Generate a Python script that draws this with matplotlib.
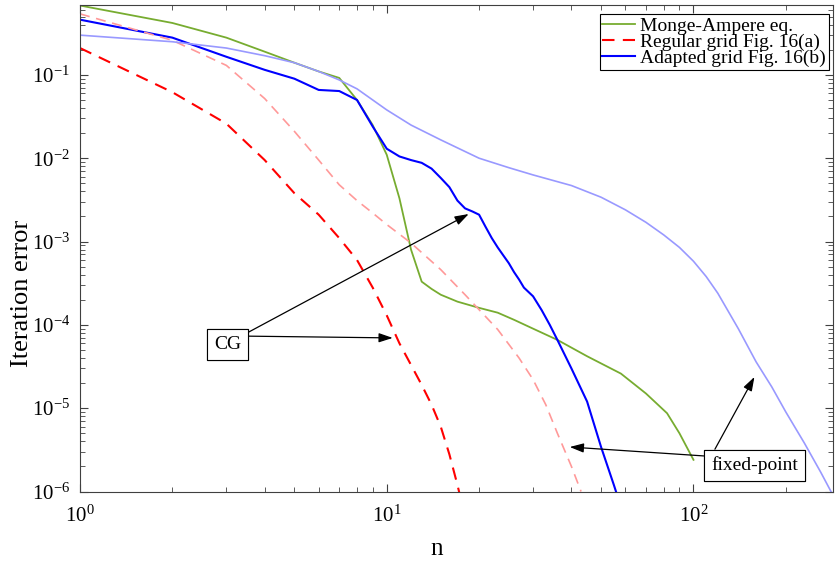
import matplotlib
matplotlib.use("Agg")
import matplotlib.pyplot as plt

plt.rcParams['font.family'] = ['Liberation Serif', 'DejaVu Serif']
plt.rcParams['mathtext.fontset'] = 'custom'
plt.rcParams['mathtext.rm'] = 'Liberation Serif'
plt.rcParams['mathtext.it'] = 'Liberation Serif:italic'

# Monge-Ampere eq.
n_green = [1, 2, 3, 4, 5, 6, 7, 8, 9, 10, 11, 12, 13, 14, 15, 17, 20, 23, 26, 30,
           36, 45, 58, 70, 82, 90, 100]
err_green = [0.68, 0.42, 0.28, 0.19, 0.14, 0.11, 0.092, 0.05, 0.025, 0.011, 3.3e-3,
             8e-4, 3.3e-4, 2.7e-4, 2.3e-4, 1.9e-4, 1.6e-4, 1.4e-4, 1.15e-4, 9e-5,
             6.6e-5, 4.2e-5, 2.6e-5, 1.5e-5, 8.7e-6, 5e-6, 2.4e-6]

# Regular grid, CG (red) and fixed-point (light red)
n_red = [1, 2, 3, 4, 5, 6, 7, 8, 9, 10, 11, 12, 13, 14, 15, 16, 17, 18]
err_red = [0.21, 0.062, 0.026, 0.0095, 0.0038, 0.0021, 0.0011, 6e-4, 2.8e-4, 1.3e-4,
           6e-5, 3.3e-5, 1.9e-5, 1.1e-5, 6e-6, 2.8e-6, 1.2e-6, 5e-7]
n_red_fp = [1, 2, 3, 4, 5, 6, 7, 8, 9, 10, 12, 15, 18, 23, 27, 30, 33, 36, 40, 43]
err_red_fp = [0.54, 0.26, 0.13, 0.052, 0.021, 0.0095, 0.0048, 0.0031, 0.0022, 0.0016,
              9.6e-4, 4.6e-4, 2.3e-4, 8.8e-5, 4e-5, 2.2e-5, 1.1e-5, 5e-6, 2e-6, 1e-6]

# Adapted grid, CG (blue) and fixed-point (light blue)
n_blue = [1, 2, 3, 4, 5, 6, 7, 8, 9, 10, 11, 12, 13, 14, 15, 16, 17, 18, 19, 20,
          21, 22, 23, 24, 25, 26, 27, 28, 30, 32, 34, 36, 40, 45, 50, 55, 57]
err_blue = [0.46, 0.28, 0.165, 0.115, 0.09, 0.066, 0.064, 0.05, 0.024, 0.013, 0.0105,
            0.0095, 0.0088, 0.0075, 0.0058, 0.0045, 0.0031, 0.0025, 0.0023, 0.0021,
            0.0015, 0.0011, 8.5e-4, 6.8e-4, 5.5e-4, 4.3e-4, 3.5e-4, 2.8e-4, 2.2e-4,
            1.5e-4, 1e-4, 6.6e-5, 3e-5, 1.2e-5, 3.4e-6, 1.2e-6, 8e-7]
n_blue_fp = [1, 2, 3, 4, 5, 6, 7, 8, 10, 12, 15, 20, 25, 30, 40, 50, 60, 70, 80, 90,
             100, 110, 120, 140, 160, 180, 200, 230, 260, 285]
err_blue_fp = [0.30, 0.25, 0.21, 0.17, 0.14, 0.11, 0.087, 0.068, 0.038, 0.025, 0.0166,
               0.010, 0.0077, 0.0063, 0.0047, 0.0034, 0.0024, 0.0017, 0.0012, 8.5e-4,
               5.8e-4, 3.8e-4, 2.4e-4, 9e-5, 3.6e-5, 1.8e-5, 9e-6, 3.8e-6, 1.7e-6, 9e-7]

labels = ["Monge-Ampere eq.", "Regular grid Fig. 16(a)", "Adapted grid Fig. 16(b)"]

# annotation anchors (data coords)
cg_text = (3.03, 5.8e-5)
cg_tips = [(18.5, 2.14e-3), (10.46, 6.97e-5)]
fp_text = (158, 2.06e-6)
fp_tips = [(39.5, 3.42e-6), (158, 2.37e-5)]

fig = plt.figure(figsize=(8.35, 5.61), dpi=100)
ax = fig.add_axes([80 / 835, (561 - 491.5) / 561, 753 / 835, 486.5 / 561])

ax.loglog(n_green, err_green, color="#77AC30", lw=1.3, label=labels[0])
ax.loglog(n_red, err_red, color="red", lw=1.5, ls=(0, (6, 4)), label=labels[1])
ax.loglog(n_blue, err_blue, color="blue", lw=1.5, label=labels[2])
ax.loglog(n_red_fp, err_red_fp, color="#FF9999", lw=1.2, ls=(0, (6, 4)))
ax.loglog(n_blue_fp, err_blue_fp, color="#9999FF", lw=1.2)

ax.set_xlim(1, 285)
ax.set_ylim(1e-6, 0.69)
ax.set_xlabel("n", fontsize=18)
ax.set_ylabel("Iteration error", fontsize=19)
ax.xaxis.set_label_coords(0.474, -0.095)
ax.yaxis.set_label_coords(-0.062, 0.408)
ax.tick_params(which="both", direction="in", top=True, right=True, labelsize=15,
               color="0.25")
ax.tick_params(which="major", length=6)
ax.tick_params(which="minor", length=3.5)
ax.tick_params(axis="x", pad=10)
ax.tick_params(axis="y", pad=7)
for s in ax.spines.values():
    s.set_color("0.25")

leg = ax.legend(loc="upper right", bbox_to_anchor=(0.9947, 0.9815), borderaxespad=0,
                fontsize=14, fancybox=False, edgecolor="black", framealpha=1,
                labelspacing=-0.08, handlelength=1.7, handletextpad=0.25, borderpad=0.15)
leg.get_frame().set_linewidth(0.8)

box = dict(boxstyle="square,pad=0.35", fc="white", ec="black", lw=0.8)
arrow = dict(arrowstyle="-|>,head_length=0.6,head_width=0.2", color="black", lw=0.9,
             shrinkA=0, shrinkB=0)

for tip in cg_tips:
    ax.annotate("CG", xy=tip, xytext=cg_text, fontsize=14, ha="center", va="center",
                bbox=box, arrowprops=dict(arrow, relpos=(1, 1)))
for tip in fp_tips:
    ax.annotate("fixed-point", xy=tip, xytext=fp_text, fontsize=14, ha="center",
                va="center", bbox=box, arrowprops=dict(arrow, relpos=(0, 1)))

plt.savefig("out.png", dpi=100)
